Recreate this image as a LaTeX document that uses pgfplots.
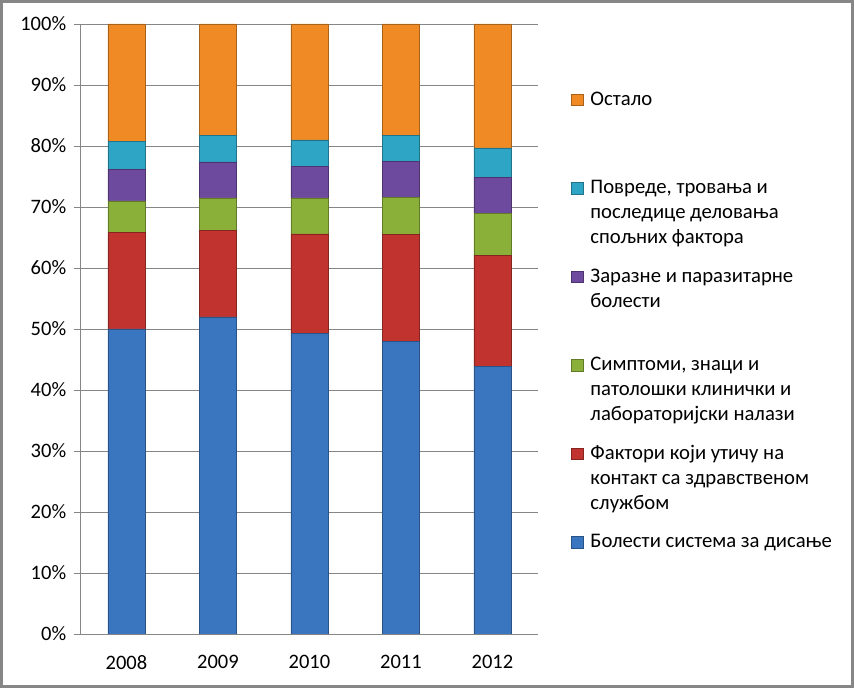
\documentclass[border=0pt]{standalone}
\usepackage{pgfplots}
\usepackage{pgfplotstable}
\usepackage{fontspec}
\setmainfont{Carlito}
\pgfplotsset{compat=1.18}
\definecolor{cblue}{HTML}{3A76C0}
\definecolor{cred}{HTML}{C0332E}
\definecolor{cgreen}{HTML}{8AB03A}
\definecolor{cpurple}{HTML}{6E4A9E}
\definecolor{ccyan}{HTML}{2FA5C5}
\definecolor{corange}{HTML}{F08A24}
\definecolor{cgrid}{HTML}{868686}
\pgfplotstableread{
x blue red green purple cyan orange
0 50.0 15.8 5.2 5.2 4.5 19.3
1 52.0 14.2 5.3 5.9 4.4 18.2
2 49.3 16.3 5.9 5.1 4.4 19.0
3 48.0 17.5 6.1 5.9 4.2 18.3
4 43.9 18.2 6.9 5.9 4.8 20.3
}\datatable
\newcommand{\lgent}[1]{\parbox[t]{265pt}{\fontsize{20.7}{25}\selectfont #1}}
\begin{document}
\begin{tikzpicture}[x=1pt,y=1pt]
\useasboundingbox (0,0) rectangle (854,688);
\draw[cgrid, line width=2.6pt] (1.3,1.3) rectangle (852.7,686.7);
\begin{axis}[
  at={(80.7pt,54pt)}, anchor=south west,
  scale only axis, width=457.5pt, height=610pt,
  ybar stacked, bar width=37pt,
  xmin=-0.5, xmax=4.5, ymin=0, ymax=100,
  axis x line*=bottom, axis y line*=left,
  axis line style={cgrid, line width=0.8pt},
  xtick={0,1,2,3,4},
  xticklabels={2008,2009,2010,2011,2012},
  x tick style={draw=none},
  extra x ticks={-0.5,0.5,1.5,2.5,3.5,4.5},
  extra x tick labels={},
  extra x tick style={tick style={draw=cgrid, line width=0.8pt}, major tick length=6pt, tick align=outside},
  ytick={0,10,...,100},
  yticklabel={\pgfmathprintnumber{\tick}\%},
  /pgf/number format/assume math mode=true,
  y tick style={draw=cgrid, line width=0.8pt},
  major tick length=7pt, tick align=outside,
  ymajorgrids, grid style={cgrid, line width=0.8pt},
  tick label style={font=\fontsize{20.5}{24}\selectfont, text=black},
  xticklabel style={yshift=-11pt},
  yticklabel style={xshift=-4pt},
  reverse legend,
  legend style={at={(1.072,1.0066)}, anchor=north west, draw=none, fill=none,
    inner sep=0pt, row sep=0pt, column sep=5pt,
    cells={anchor=base west, inner sep=0pt, text height=83pt, text depth=0pt}},
  legend image code/.code={\fill[#1] (0pt,-0.5pt) rectangle (11.6pt,11.1pt);},
]
\addplot[fill=cblue, draw=cblue!70!black, line width=0.5pt] table[x=x,y=blue]{\datatable};
\addplot[fill=cred, draw=cred!70!black, line width=0.5pt] table[x=x,y=red]{\datatable};
\addplot[fill=cgreen, draw=cgreen!70!black, line width=0.5pt] table[x=x,y=green]{\datatable};
\addplot[fill=cpurple, draw=cpurple!70!black, line width=0.5pt] table[x=x,y=purple]{\datatable};
\addplot[fill=ccyan, draw=ccyan!70!black, line width=0.5pt] table[x=x,y=cyan]{\datatable};
\addplot[fill=corange, draw=corange!70!black, line width=0.5pt] table[x=x,y=orange]{\datatable};
\legend{\lgent{Болести система за дисање},
  \lgent{Фактори који утичу на\\контакт са здравственом\\службом},
  \lgent{Симптоми, знаци и\\патолошки клинички и\\лабораторијски налази},
  \lgent{Заразне и паразитарне\\болести},
  \lgent{Повреде, тровања и\\последице деловања\\спољних фактора},
  \lgent{Остало}}
\end{axis}
\end{tikzpicture}
\end{document}
